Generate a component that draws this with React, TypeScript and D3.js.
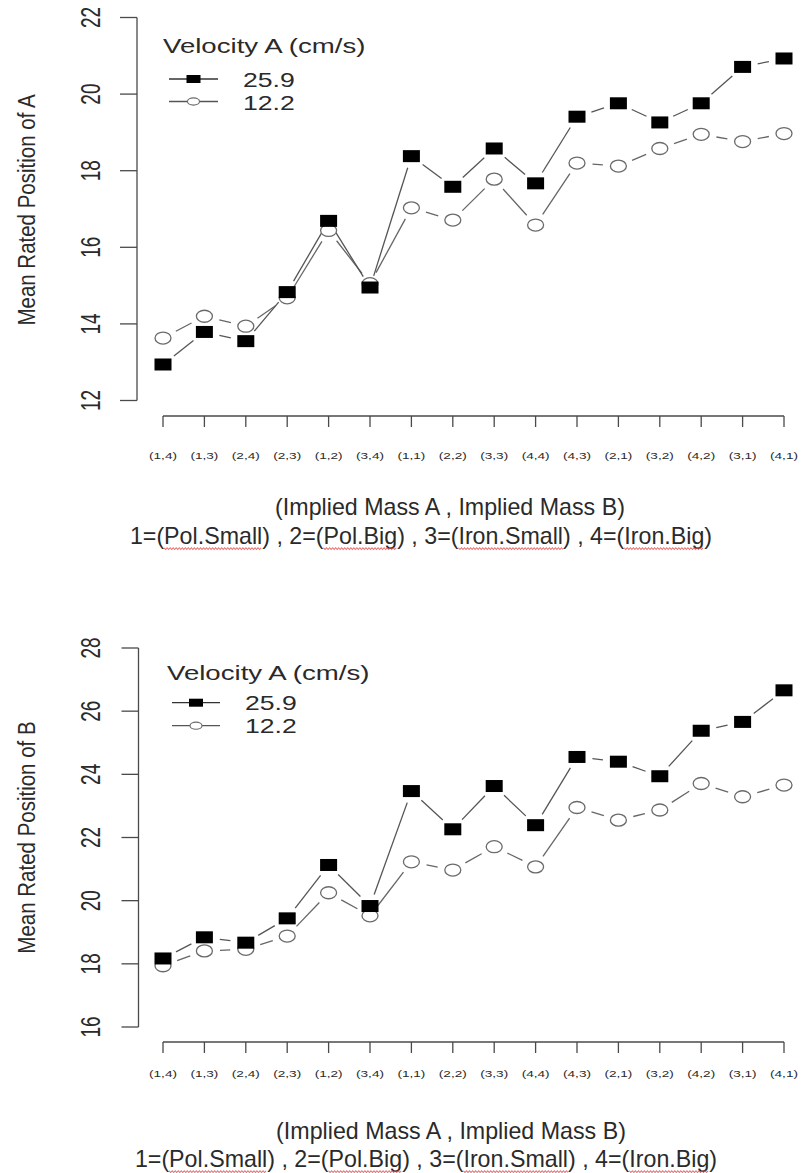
import React, { useLayoutEffect, useRef, useState } from 'react';
import * as d3 from 'd3';

// ---------- data ----------
const categories = ["(1,4)", "(1,3)", "(2,4)", "(2,3)", "(1,2)", "(3,4)", "(1,1)", "(2,2)", "(3,3)", "(4,4)", "(4,3)", "(2,1)", "(3,2)", "(4,2)", "(3,1)", "(4,1)"];
const seriesNames = ["25.9", "12.2"];
const legendTitle = "Velocity A (cm/s)";
const posAFast = [12.94, 13.79, 13.55, 14.83, 16.69, 14.95, 18.38, 17.58, 18.58, 17.67, 19.41, 19.76, 19.26, 19.76, 20.71, 20.93];
const posASlow = [13.63, 14.2, 13.94, 14.68, 16.44, 15.05, 17.03, 16.71, 17.78, 16.58, 18.2, 18.12, 18.58, 18.95, 18.76, 18.97];
const posBFast = [18.17, 18.84, 18.67, 19.44, 21.13, 19.83, 23.47, 22.26, 23.63, 22.39, 24.55, 24.4, 23.94, 25.38, 25.66, 26.66];
const posBSlow = [17.94, 18.41, 18.46, 18.88, 20.25, 19.52, 21.23, 20.97, 21.71, 21.07, 22.95, 22.55, 22.87, 23.71, 23.29, 23.66];
const yTicksA = [12, 14, 16, 18, 20, 22];
const yTicksB = [16, 18, 20, 22, 24, 26, 28];
const xTitle1 = "(Implied Mass A , Implied Mass B)";
const xTitle2Parts = ["1=(", "#Pol.Small", ") , 2=(", "#Pol.Big", ") , 3=(", "#Iron.Small", ") , 4=(", "#Iron.Big", ")"];

const FONT = "'Liberation Sans', Arial, sans-serif";
const TXT = "#2a2a2a";
const AX = "#4a4a4a";

type PanelCfg = {
  fast: number[]; slow: number[]; ticks: number[]; domain: [number, number];
  yRange: [number, number]; axisX: number; xAxisY: number; tickLabelY: number;
  title1Y: number; title1X: number; title2Y: number; title2X: number;
  legTitleX: number; legTitleY: number; legRow1: number; legRow2: number; legLineX: [number, number];
  legTextX: number; legText1Y: number; legText2Y: number; yTitle: string; yTitleY: number;
};

const panels: PanelCfg[] = [
  {
    fast: posAFast, slow: posASlow, ticks: yTicksA, domain: [12, 22], yRange: [400.5, 17.5],
    axisX: 137, xAxisY: 416, tickLabelY: 459, title1Y: 515, title1X: 450, title2Y: 544, title2X: 421,
    legTitleX: 163, legTitleY: 53, legRow1: 79, legRow2: 101.5, legLineX: [169, 218],
    legTextX: 243, legText1Y: 87, legText2Y: 109.5, yTitle: "Mean Rated Position of A", yTitleY: 210,
  },
  {
    fast: posBFast, slow: posBSlow, ticks: yTicksB, domain: [16, 28], yRange: [1027, 648],
    axisX: 138.5, xAxisY: 1042, tickLabelY: 1077, title1Y: 1139, title1X: 451, title2Y: 1167, title2X: 426,
    legTitleX: 167, legTitleY: 680, legRow1: 702.7, legRow2: 725.7, legLineX: [172, 220],
    legTextX: 245, legText1Y: 710, legText2Y: 733, yTitle: "Mean Rated Position of B", yTitleY: 837.5,
  },
];

const xScale = d3.scalePoint<string>().domain(categories).range([163, 784]);

function STxt(props: { x: number; y: number; sx: number; size: number; anchor?: string; rot?: boolean; children: any }) {
  const { x, y, sx, size, anchor, rot, children } = props;
  return (
    <g transform={`translate(${x},${y}) scale(${sx},1)${rot ? ' rotate(-90)' : ''}`}>
      <text fontFamily={FONT} fontSize={size} fill={TXT} textAnchor={anchor || 'start'}>{children}</text>
    </g>
  );
}

// segments with gaps like R type="b"
function gapSegments(pts: [number, number][], gap: number, sx: number) {
  const segs: [number, number, number, number][] = [];
  for (let i = 0; i < pts.length - 1; i++) {
    const [x0, y0] = pts[i];
    const [x1, y1] = pts[i + 1];
    const dx = (x1 - x0) / sx, dy = y1 - y0;
    const d = Math.hypot(dx, dy);
    if (d <= 2 * gap) continue;
    const t = gap / d;
    segs.push([x0 + (x1 - x0) * t, y0 + dy * t, x1 - (x1 - x0) * t, y1 - dy * t]);
  }
  return segs;
}

function TitleLine2({ x, y }: { x: number; y: number }) {
  const ref = useRef<SVGTextElement>(null);
  const [marks, setMarks] = useState<[number, number][]>([]);
  useLayoutEffect(() => {
    const el = ref.current;
    if (!el) return;
    const out: [number, number][] = [];
    let idx = 0;
    xTitle2Parts.forEach((p) => {
      const s = p.startsWith('#') ? p.slice(1) : p;
      if (p.startsWith('#')) {
        try {
          const a = el.getStartPositionOfChar(idx).x;
          const b = el.getEndPositionOfChar(idx + s.length - 1).x;
          out.push([a, b]);
        } catch (e) { /* ignore */ }
      }
      idx += s.length;
    });
    setMarks(out);
  }, []);
  const squig = (a: number, b: number) => {
    const pts: [number, number][] = [];
    let k = 0;
    for (let xx = a; xx <= b; xx += 1.5) { pts.push([xx, 4.6 + (k % 2 === 0 ? -0.9 : 0.9)]); k++; }
    return d3.line()(pts) || '';
  };
  return (
    <g transform={`translate(${x},${y}) scale(1.01,1)`}>
      <text ref={ref} fontFamily={FONT} fontSize={23} fill={TXT} textAnchor="middle">
        {xTitle2Parts.map((p, i) => <tspan key={i}>{p.startsWith('#') ? p.slice(1) : p}</tspan>)}
      </text>
      {marks.map((m, i) => (
        <path key={i} d={squig(m[0], m[1])} fill="none" stroke="#e04848" strokeWidth={1} opacity={0.8} />
      ))}
    </g>
  );
}

function Panel({ cfg }: { cfg: PanelCfg }) {
  const y = d3.scaleLinear().domain(cfg.domain).range(cfg.yRange);
  const fastPts = cfg.fast.map((v, i) => [xScale(categories[i])!, y(v)] as [number, number]);
  const slowPts = cfg.slow.map((v, i) => [xScale(categories[i])!, y(v)] as [number, number]);
  const segF = gapSegments(fastPts, 12, 1.3);
  const segS = gapSegments(slowPts, 12, 1.3);
  const [t0, t1] = [cfg.ticks[0], cfg.ticks[cfg.ticks.length - 1]];
  const lx = (cfg.legLineX[0] + cfg.legLineX[1]) / 2;
  return (
    <g>
      {/* y axis */}
      <line x1={cfg.axisX} x2={cfg.axisX} y1={y(t0)} y2={y(t1)} stroke={AX} strokeWidth={1.3} />
      {cfg.ticks.map((t) => (
        <g key={t}>
          <line x1={cfg.axisX - 17} x2={cfg.axisX} y1={y(t)} y2={y(t)} stroke={AX} strokeWidth={1.3} />
          <STxt x={100} y={y(t)} sx={1.5} size={19} anchor="middle" rot>{String(t)}</STxt>
        </g>
      ))}
      <STxt x={35} y={cfg.yTitleY} sx={1.2} size={20.5} anchor="middle" rot>{cfg.yTitle}</STxt>
      {/* x axis */}
      <line x1={xScale(categories[0])!} x2={xScale(categories[categories.length - 1])!} y1={cfg.xAxisY} y2={cfg.xAxisY} stroke={AX} strokeWidth={1.3} />
      {categories.map((c) => (
        <g key={c}>
          <line x1={xScale(c)!} x2={xScale(c)!} y1={cfg.xAxisY} y2={cfg.xAxisY + 11} stroke={AX} strokeWidth={1.3} />
          <STxt x={xScale(c)!} y={cfg.tickLabelY} sx={1.6} size={8.5} anchor="middle">{c}</STxt>
        </g>
      ))}
      <STxt x={cfg.title1X} y={cfg.title1Y} sx={1.01} size={23} anchor="middle">{xTitle1}</STxt>
      <TitleLine2 x={cfg.title2X} y={cfg.title2Y} />
      {/* lines */}
      {segS.map((s, i) => <line key={'s' + i} x1={s[0]} y1={s[1]} x2={s[2]} y2={s[3]} stroke="#666" strokeWidth={1.3} />)}
      {segF.map((s, i) => <line key={'f' + i} x1={s[0]} y1={s[1]} x2={s[2]} y2={s[3]} stroke="#555" strokeWidth={1.3} />)}
      {/* markers */}
      {slowPts.map((p, i) => <ellipse key={'c' + i} cx={p[0]} cy={p[1]} rx={8} ry={6} fill="#fff" stroke="#6a6a6a" strokeWidth={1.3} />)}
      {fastPts.map((p, i) => <rect key={'r' + i} x={p[0] - 8.5} y={p[1] - 6} width={17} height={12} fill="#000" />)}
      {/* legend */}
      <STxt x={cfg.legTitleX} y={cfg.legTitleY} sx={1.38} size={20}>{legendTitle}</STxt>
      <line x1={cfg.legLineX[0]} x2={cfg.legLineX[1]} y1={cfg.legRow1} y2={cfg.legRow1} stroke="#333" strokeWidth={1.3} />
      <rect x={lx - 7} y={cfg.legRow1 - 4} width={14} height={8} fill="#000" />
      <line x1={cfg.legLineX[0]} x2={cfg.legLineX[1]} y1={cfg.legRow2} y2={cfg.legRow2} stroke="#555" strokeWidth={1.3} />
      <ellipse cx={lx} cy={cfg.legRow2} rx={6} ry={3.6} fill="#fff" stroke="#6a6a6a" strokeWidth={1.1} />
      <STxt x={cfg.legTextX} y={cfg.legText1Y} sx={1.33} size={20}>{seriesNames[0]}</STxt>
      <STxt x={cfg.legTextX} y={cfg.legText2Y} sx={1.33} size={20}>{seriesNames[1]}</STxt>
    </g>
  );
}

export default function App() {
  useLayoutEffect(() => { document.body.style.margin = '0'; }, []);
  return (
    <svg width={802} height={1173} viewBox="0 0 802 1173" style={{ position: 'absolute', left: 0, top: 0, background: '#fff' }}>
      <rect x={0} y={0} width={802} height={1173} fill="#fff" />
      {panels.map((p, i) => <Panel key={i} cfg={p} />)}
    </svg>
  );
}
